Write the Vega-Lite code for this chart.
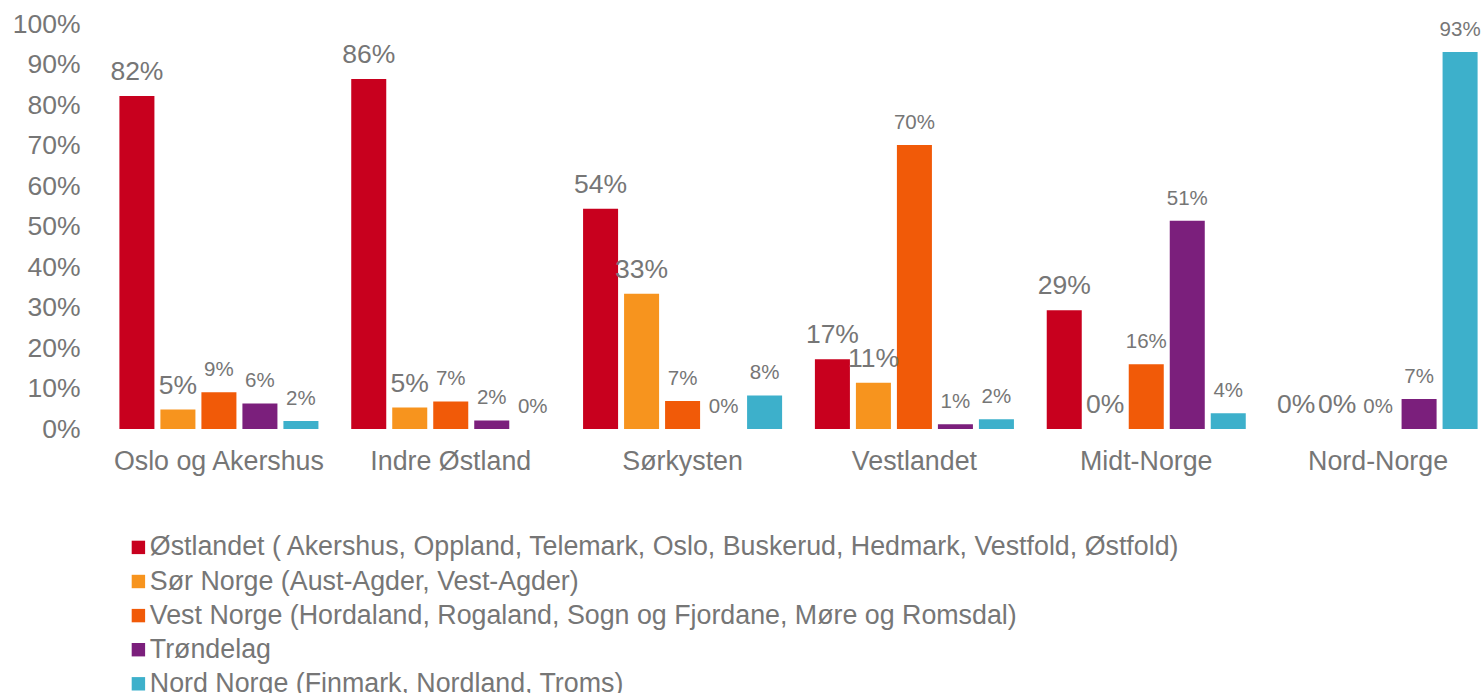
{
  "$schema": "https://vega.github.io/schema/vega-lite/v6.json",
  "width": 1391,
  "height": 405,
  "autosize": {"type": "none"},
  "padding": {"left": 103, "top": 24, "right": 0, "bottom": 264},
  "background": "white",
  "config": {"view": {"stroke": null}, "font": "Liberation Sans"},
  "data": {
    "values": [
      {"region": "Oslo og Akershus", "serie": "Østlandet ( Akershus, Oppland, Telemark, Oslo, Buskerud, Hedmark, Vestfold, Østfold)", "value": 0.822},
      {"region": "Oslo og Akershus", "serie": "Sør Norge (Aust-Agder, Vest-Agder)", "value": 0.048},
      {"region": "Oslo og Akershus", "serie": "Vest Norge (Hordaland, Rogaland, Sogn og Fjordane, Møre og Romsdal)", "value": 0.091},
      {"region": "Oslo og Akershus", "serie": "Trøndelag", "value": 0.063},
      {"region": "Oslo og Akershus", "serie": "Nord Norge (Finmark, Nordland, Troms)", "value": 0.020},
      {"region": "Indre Østland", "serie": "Østlandet ( Akershus, Oppland, Telemark, Oslo, Buskerud, Hedmark, Vestfold, Østfold)", "value": 0.864},
      {"region": "Indre Østland", "serie": "Sør Norge (Aust-Agder, Vest-Agder)", "value": 0.053},
      {"region": "Indre Østland", "serie": "Vest Norge (Hordaland, Rogaland, Sogn og Fjordane, Møre og Romsdal)", "value": 0.068},
      {"region": "Indre Østland", "serie": "Trøndelag", "value": 0.021},
      {"region": "Indre Østland", "serie": "Nord Norge (Finmark, Nordland, Troms)", "value": 0.0},
      {"region": "Sørkysten", "serie": "Østlandet ( Akershus, Oppland, Telemark, Oslo, Buskerud, Hedmark, Vestfold, Østfold)", "value": 0.544},
      {"region": "Sørkysten", "serie": "Sør Norge (Aust-Agder, Vest-Agder)", "value": 0.334},
      {"region": "Sørkysten", "serie": "Vest Norge (Hordaland, Rogaland, Sogn og Fjordane, Møre og Romsdal)", "value": 0.069},
      {"region": "Sørkysten", "serie": "Trøndelag", "value": 0.0},
      {"region": "Sørkysten", "serie": "Nord Norge (Finmark, Nordland, Troms)", "value": 0.083},
      {"region": "Vestlandet", "serie": "Østlandet ( Akershus, Oppland, Telemark, Oslo, Buskerud, Hedmark, Vestfold, Østfold)", "value": 0.172},
      {"region": "Vestlandet", "serie": "Sør Norge (Aust-Agder, Vest-Agder)", "value": 0.114},
      {"region": "Vestlandet", "serie": "Vest Norge (Hordaland, Rogaland, Sogn og Fjordane, Møre og Romsdal)", "value": 0.701},
      {"region": "Vestlandet", "serie": "Trøndelag", "value": 0.012},
      {"region": "Vestlandet", "serie": "Nord Norge (Finmark, Nordland, Troms)", "value": 0.024},
      {"region": "Midt-Norge", "serie": "Østlandet ( Akershus, Oppland, Telemark, Oslo, Buskerud, Hedmark, Vestfold, Østfold)", "value": 0.293},
      {"region": "Midt-Norge", "serie": "Sør Norge (Aust-Agder, Vest-Agder)", "value": 0.0},
      {"region": "Midt-Norge", "serie": "Vest Norge (Hordaland, Rogaland, Sogn og Fjordane, Møre og Romsdal)", "value": 0.160},
      {"region": "Midt-Norge", "serie": "Trøndelag", "value": 0.514},
      {"region": "Midt-Norge", "serie": "Nord Norge (Finmark, Nordland, Troms)", "value": 0.039},
      {"region": "Nord-Norge", "serie": "Østlandet ( Akershus, Oppland, Telemark, Oslo, Buskerud, Hedmark, Vestfold, Østfold)", "value": 0.0},
      {"region": "Nord-Norge", "serie": "Sør Norge (Aust-Agder, Vest-Agder)", "value": 0.0},
      {"region": "Nord-Norge", "serie": "Vest Norge (Hordaland, Rogaland, Sogn og Fjordane, Møre og Romsdal)", "value": 0.0},
      {"region": "Nord-Norge", "serie": "Trøndelag", "value": 0.074},
      {"region": "Nord-Norge", "serie": "Nord Norge (Finmark, Nordland, Troms)", "value": 0.931}
    ]
  },
  "encoding": {
    "x": {
      "field": "region",
      "type": "nominal",
      "sort": ["Oslo og Akershus", "Indre Østland", "Sørkysten", "Vestlandet", "Midt-Norge", "Nord-Norge"],
      "scale": {"paddingInner": 0, "paddingOuter": 0},
      "axis": {"title": null, "labelAngle": 0, "ticks": false, "domain": false, "labelFontSize": 26.8, "labelColor": "#767676", "labelPadding": 19, "labelFont": "Liberation Sans", "labelLimit": 400}
    },
    "xOffset": {
      "field": "serie",
      "type": "nominal",
      "sort": [
        "Østlandet ( Akershus, Oppland, Telemark, Oslo, Buskerud, Hedmark, Vestfold, Østfold)",
        "Sør Norge (Aust-Agder, Vest-Agder)",
        "Vest Norge (Hordaland, Rogaland, Sogn og Fjordane, Møre og Romsdal)",
        "Trøndelag",
        "Nord Norge (Finmark, Nordland, Troms)"
      ],
      "scale": {"paddingInner": 0.146, "paddingOuter": 0.4}
    },
    "y": {
      "field": "value",
      "type": "quantitative",
      "scale": {"domain": [0, 1]},
      "axis": {"title": null, "format": ".0%", "values": [0, 0.1, 0.2, 0.3, 0.4, 0.5, 0.6, 0.7, 0.8, 0.9, 1], "grid": false, "ticks": false, "domain": false, "labelFontSize": 26.5, "labelColor": "#767676", "labelPadding": 23, "labelFont": "Liberation Sans"}
    }
  },
  "layer": [
    {
      "mark": {"type": "bar"},
      "encoding": {
        "color": {
          "field": "serie",
          "type": "nominal",
          "scale": {
            "domain": [
              "Østlandet ( Akershus, Oppland, Telemark, Oslo, Buskerud, Hedmark, Vestfold, Østfold)",
              "Sør Norge (Aust-Agder, Vest-Agder)",
              "Vest Norge (Hordaland, Rogaland, Sogn og Fjordane, Møre og Romsdal)",
              "Trøndelag",
              "Nord Norge (Finmark, Nordland, Troms)"
            ],
            "range": ["#C8001E", "#F7941E", "#F15A08", "#7B1F7C", "#3DB0CB"]
          },
          "legend": {
            "title": null,
            "orient": "none",
            "legendX": 22,
            "legendY": 510,
            "direction": "vertical",
            "symbolType": "square",
            "symbolSize": 180,
            "symbolStrokeWidth": 0,
            "labelFontSize": 26.8,
            "labelColor": "#767676",
            "labelFont": "Liberation Sans",
            "labelOffset": -2,
            "rowPadding": 6.1,
            "padding": 0,
            "labelLimit": 1400
          }
        }
      }
    },
    {
      "mark": {"type": "text", "baseline": "alphabetic", "dy": -16, "color": "#767676", "font": "Liberation Sans"},
      "encoding": {
        "text": {"field": "value", "type": "quantitative", "format": ".0%"},
        "size": {
          "condition": {"test": "indexof(datum.serie, 'Østlandet') == 0 || indexof(datum.serie, 'Sør Norge') == 0", "value": 26.5},
          "value": 20.5
        }
      }
    }
  ]
}
